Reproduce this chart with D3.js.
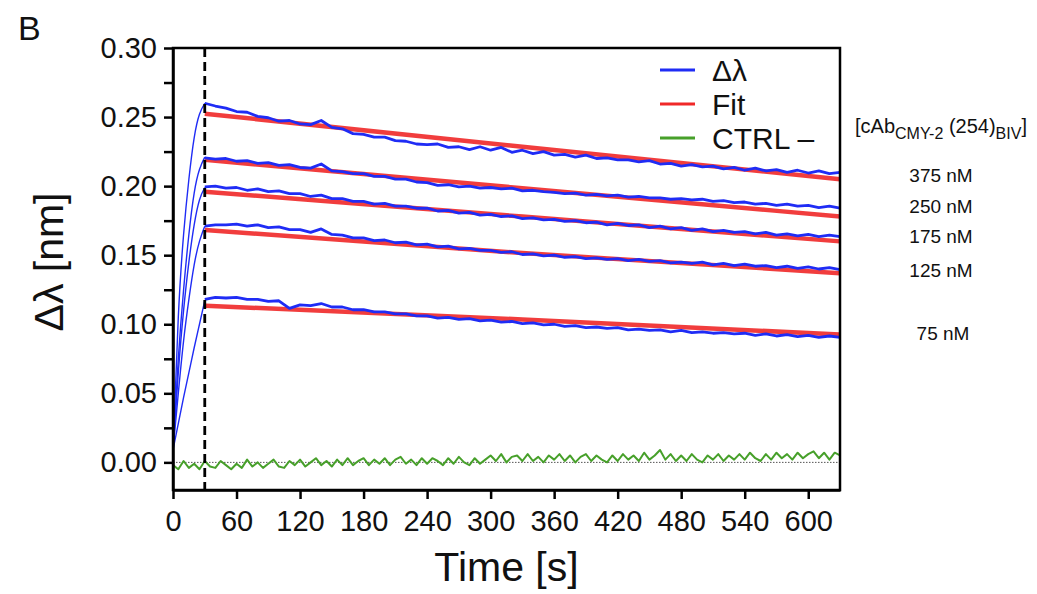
<!DOCTYPE html>
<html>
<head>
<meta charset="utf-8">
<script src="https://cdn.jsdelivr.net/npm/d3@7"></script>
<style>
  body { margin: 0; background: #fff; }
  text { font-family: "Liberation Sans", Arial, sans-serif; fill: #111; }
</style>
</head>
<body>
<svg id="chart" width="1037" height="594"></svg>
<script>
// ---- data ----
var xTicks = [0, 60, 120, 180, 240, 300, 360, 420, 480, 540, 600]
var yTicks = [0, 0.025, 0.05, 0.075, 0.10, 0.125, 0.15, 0.175, 0.20, 0.225, 0.25, 0.275, 0.30]
var yLabelled = [0, 0.05, 0.10, 0.15, 0.20, 0.25, 0.30]

var concLabels = ["375 nM", "250 nM", "175 nM", "125 nM", "75 nM"]

// association phase (0 - 30 s)
var assocTime = [0, 5, 10, 15, 20, 25, 30]
var assoc375 = [0.009, 0.105, 0.165, 0.205, 0.235, 0.252, 0.260]
var assoc250 = [0.009, 0.075, 0.125, 0.165, 0.195, 0.212, 0.221]
var assoc175 = [0.009, 0.065, 0.110, 0.145, 0.172, 0.190, 0.199]
var assoc125 = [0.009, 0.050, 0.088, 0.118, 0.143, 0.160, 0.171]
var assoc75  = [0.009, 0.028, 0.047, 0.065, 0.083, 0.100, 0.117]

// dissociation phase, one reading every 10 s from 30 s to 630 s
var dissTime = d3.range(30, 631, 10)
var diss375 = [0.2600,0.2580,0.2565,0.2540,0.2535,0.2505,0.2495,0.2470,0.2475,0.2450,
  0.2445,0.2475,0.2425,0.2415,0.2380,0.2375,0.2355,0.2355,0.2330,0.2325,
  0.2305,0.2300,0.2305,0.2280,0.2285,0.2265,0.2285,0.2260,0.2280,0.2245,
  0.2260,0.2235,0.2250,0.2225,0.2230,0.2210,0.2225,0.2200,0.2205,0.2190,
  0.2190,0.2175,0.2185,0.2160,0.2165,0.2145,0.2155,0.2140,0.2145,0.2125,
  0.2135,0.2115,0.2130,0.2110,0.2120,0.2100,0.2115,0.2095,0.2110,0.2090,
  0.2100]
var diss250 = [0.2205,0.2195,0.2200,0.2180,0.2185,0.2165,0.2170,0.2150,0.2155,0.2135,
  0.2130,0.2160,0.2110,0.2105,0.2090,0.2090,0.2070,0.2070,0.2050,0.2050,
  0.2030,0.2025,0.2005,0.2010,0.1995,0.2000,0.1985,0.1990,0.1980,0.1985,
  0.1965,0.1970,0.1960,0.1955,0.1945,0.1950,0.1935,0.1940,0.1930,0.1935,
  0.1920,0.1925,0.1915,0.1915,0.1905,0.1910,0.1900,0.1905,0.1890,0.1895,
  0.1880,0.1885,0.1870,0.1875,0.1860,0.1870,0.1855,0.1860,0.1845,0.1855,
  0.1840]
var diss175 = [0.1995,0.2000,0.1985,0.1990,0.1970,0.1980,0.1960,0.1965,0.1945,0.1945,
  0.1925,0.1935,0.1910,0.1910,0.1890,0.1890,0.1870,0.1875,0.1855,0.1855,
  0.1840,0.1840,0.1820,0.1825,0.1805,0.1810,0.1790,0.1795,0.1780,0.1785,
  0.1765,0.1770,0.1755,0.1760,0.1745,0.1750,0.1735,0.1740,0.1720,0.1730,
  0.1715,0.1720,0.1700,0.1710,0.1690,0.1700,0.1680,0.1690,0.1670,0.1680,
  0.1665,0.1670,0.1655,0.1665,0.1645,0.1655,0.1640,0.1650,0.1635,0.1645,
  0.1635]
var diss125 = [0.1710,0.1720,0.1720,0.1725,0.1710,0.1720,0.1700,0.1705,0.1685,0.1685,
  0.1665,0.1690,0.1650,0.1645,0.1625,0.1625,0.1605,0.1610,0.1590,0.1595,
  0.1575,0.1580,0.1560,0.1565,0.1545,0.1550,0.1535,0.1535,0.1520,0.1525,
  0.1505,0.1510,0.1495,0.1500,0.1485,0.1490,0.1475,0.1480,0.1470,0.1475,
  0.1460,0.1470,0.1455,0.1460,0.1445,0.1450,0.1440,0.1450,0.1430,0.1440,
  0.1425,0.1435,0.1420,0.1425,0.1410,0.1420,0.1405,0.1415,0.1400,0.1410,
  0.1395]
var diss75 = [0.1180,0.1195,0.1190,0.1195,0.1180,0.1180,0.1165,0.1170,0.1115,0.1140,
  0.1135,0.1150,0.1125,0.1125,0.1105,0.1105,0.1090,0.1090,0.1075,0.1075,
  0.1060,0.1060,0.1045,0.1050,0.1035,0.1040,0.1025,0.1030,0.1015,0.1020,
  0.1005,0.1010,0.0995,0.1000,0.0985,0.0990,0.0975,0.0980,0.0970,0.0975,
  0.0960,0.0965,0.0955,0.0960,0.0945,0.0955,0.0940,0.0945,0.0935,0.0940,
  0.0930,0.0935,0.0920,0.0930,0.0915,0.0925,0.0910,0.0920,0.0905,0.0915,
  0.0905]

// fitted dissociation curves
var fitTime = [30, 330, 630]
var fit375 = [0.2524, 0.2285, 0.2050]
var fit250 = [0.2190, 0.1985, 0.1780]
var fit175 = [0.1960, 0.1780, 0.1600]
var fit125 = [0.1683, 0.1515, 0.1370]
var fit75  = [0.1134, 0.1035, 0.0925]

// negative control, one reading every 5 s
var ctrlTime = d3.range(0, 631, 5)
var ctrlValues = [
  -0.002,-0.005,0.001,-0.004,-0.001,-0.005,0.001,-0.003,-0.004,0.001,-0.002,-0.005,
  -0.001,-0.004,0.002,-0.003,0.000,-0.004,-0.001,0.002,-0.003,-0.004,0.001,-0.002,
  0.002,-0.003,0.000,0.003,-0.002,0.001,-0.003,0.002,-0.002,0.003,-0.002,0.001,
  0.003,-0.002,0.002,-0.001,0.003,-0.002,0.002,0.004,-0.001,0.002,-0.002,0.003,
  -0.001,0.003,0.001,-0.002,0.003,-0.001,0.004,0.000,-0.002,0.003,-0.001,0.002,
  0.005,0.001,0.006,0.000,0.004,0.005,0.001,0.006,0.001,0.004,0.000,0.005,
  0.002,0.006,0.001,0.005,0.000,0.004,0.006,0.001,0.005,0.002,0.000,0.005,
  0.001,0.006,0.002,0.005,0.001,0.007,0.002,0.005,0.009,0.002,0.006,0.001,
  0.005,0.001,0.006,0.002,0.000,0.005,0.002,0.006,0.001,0.005,0.002,0.006,
  0.002,0.007,0.003,0.001,0.006,0.002,0.007,0.003,0.006,0.002,0.007,0.003,
  0.006,0.008,0.003,0.007,0.002,0.007,0.005]

var assocSeries = [assoc375, assoc250, assoc175, assoc125, assoc75]
var dissSeries  = [diss375, diss250, diss175, diss125, diss75]
var fitSeries   = [fit375, fit250, fit175, fit125, fit75]

var BLUE = "#1f2cf5", RED = "#f02828", GREEN = "#47a02a"

// ---- chart ----
var svg = d3.select("#chart"),
    margin = {top: 48, right: 197, bottom: 104, left: 173},
    width  = +svg.attr("width")  - margin.left - margin.right,
    height = +svg.attr("height") - margin.top  - margin.bottom;

var x = d3.scaleLinear().domain([0, 630]).range([0, width]);
var y = d3.scaleLinear().domain([-0.02, 0.30]).range([height, 0]);

var g = svg.append("g")
  .attr("transform", "translate(" + margin.left + "," + margin.top + ")");

function pairs(ts, vs) {
  return ts.map(function(t, i) { return [t, vs[i]]; });
}
var line = d3.line()
  .x(function(d) { return x(d[0]); })
  .y(function(d) { return y(d[1]); });
var smooth = d3.line().curve(d3.curveNatural)
  .x(function(d) { return x(d[0]); })
  .y(function(d) { return y(d[1]); });

// zero reference
g.append("line")
  .attr("x1", 0).attr("x2", width)
  .attr("y1", y(0)).attr("y2", y(0))
  .attr("stroke", "#555").attr("stroke-width", 1)
  .attr("stroke-dasharray", "1.5,1.5");

// control
g.append("path")
  .datum(pairs(ctrlTime, ctrlValues))
  .attr("d", line)
  .attr("fill", "none").attr("stroke", GREEN)
  .attr("stroke-width", 2).attr("stroke-linejoin", "round");

// association
assocSeries.forEach(function(s) {
  g.append("path")
    .datum(pairs(assocTime, s))
    .attr("d", smooth)
    .attr("fill", "none").attr("stroke", BLUE)
    .attr("stroke-width", 1.4);
});

// fits
fitSeries.forEach(function(s) {
  g.append("path")
    .datum(pairs(fitTime, s))
    .attr("d", smooth)
    .attr("fill", "none").attr("stroke", RED)
    .attr("stroke-width", 4.5).attr("stroke-opacity", 0.9);
});

// dissociation data
dissSeries.forEach(function(s) {
  g.append("path")
    .datum(pairs(dissTime, s))
    .attr("d", line)
    .attr("fill", "none").attr("stroke", BLUE)
    .attr("stroke-width", 2.8).attr("stroke-linejoin", "round");
});

// injection end marker
g.append("line")
  .attr("x1", x(30)).attr("x2", x(30))
  .attr("y1", 0).attr("y2", height)
  .attr("stroke", "#000").attr("stroke-width", 2.8)
  .attr("stroke-dasharray", "9,5");

// frame
g.append("rect")
  .attr("width", width).attr("height", height)
  .attr("fill", "none").attr("stroke", "#000").attr("stroke-width", 2.5);

// axes
var xAxis = d3.axisBottom(x).tickValues(xTicks).tickSize(9).tickSizeOuter(0);
var yAxis = d3.axisLeft(y).tickValues(yTicks).tickSize(9).tickSizeOuter(0).tickPadding(7)
  .tickFormat(function(d) {
    return yLabelled.some(function(v) { return Math.abs(v - d) < 1e-9; }) ? d.toFixed(2) : "";
  });

var gx = g.append("g").attr("transform", "translate(0," + height + ")").call(xAxis);
var gy = g.append("g").call(yAxis);

[gx, gy].forEach(function(a) {
  a.select(".domain").attr("stroke", "#000").attr("stroke-width", 2.5);
  a.selectAll(".tick line").attr("stroke", "#000").attr("stroke-width", 2.5);
  a.selectAll(".tick text").style("font-size", "29px").attr("fill", "#111")
    .style("font-family", '"Liberation Sans", Arial, sans-serif');
});
gx.selectAll(".tick text").attr("y", 41).attr("dy", null);

// axis titles
g.append("text")
  .attr("x", width / 2).attr("y", height + 91)
  .attr("text-anchor", "middle")
  .style("font-size", "41px")
  .text("Time [s]");

svg.append("text")
  .attr("transform", "translate(63," + 262 + ") rotate(-90)")
  .attr("text-anchor", "middle")
  .style("font-size", "41px")
  .text("Δλ [nm]");

// panel letter
svg.append("text").attr("x", 18).attr("y", 40).style("font-size", "34px").text("B");

// legend
var legendItems = [["Δλ", BLUE], ["Fit", RED], ["CTRL –", GREEN]];
var legend = svg.append("g").attr("transform", "translate(660,70)");
legendItems.forEach(function(d, i) {
  var row = legend.append("g").attr("transform", "translate(0," + (i * 34) + ")");
  row.append("line").attr("x1", 0).attr("x2", 35).attr("y1", 0).attr("y2", 0)
    .attr("stroke", d[1]).attr("stroke-width", 3);
  row.append("text").attr("x", 52).attr("y", 11).style("font-size", "30px").text(d[0]);
});

// concentration labels
var header = svg.append("text").attr("x", 855).attr("y", 133).style("font-size", "20px");
header.append("tspan").text("[cAb");
header.append("tspan").attr("dy", 6).style("font-size", "16px").text("CMY-2");
header.append("tspan").attr("dy", -6).text(" (254)");
header.append("tspan").attr("dy", 6).style("font-size", "16px").text("BIV");
header.append("tspan").attr("dy", -6).text("]");

var labelBaselines = [182, 213, 243, 277, 340];
concLabels.forEach(function(l, i) {
  svg.append("text")
    .attr("x", i === 4 ? 943 : 941).attr("y", labelBaselines[i])
    .attr("text-anchor", "middle")
    .style("font-size", "19px")
    .text(l);
});
</script>
</body>
</html>
